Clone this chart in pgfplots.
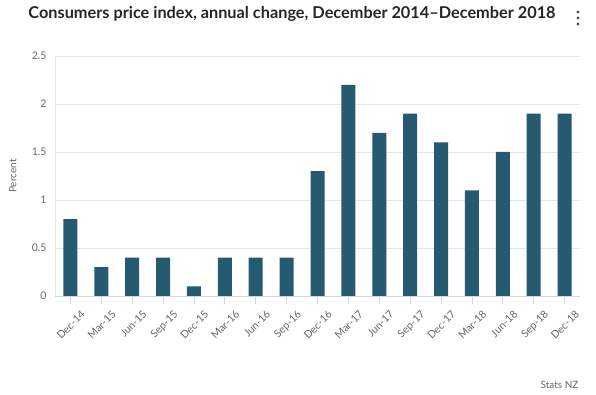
\documentclass[border=0pt]{standalone}
\usepackage{pgfplots}
\pgfplotsset{compat=1.18}
\usepackage{fontspec}
\setmainfont{Lato}
\definecolor{barc}{RGB}{38,90,112}
\definecolor{gridc}{RGB}{230,230,230}
\definecolor{axc}{RGB}{204,214,235}
\definecolor{txt}{RGB}{102,102,102}
\begin{document}
\begin{tikzpicture}
\path[use as bounding box] (0,0) rectangle (596pt,395pt);
\node[anchor=center,font=\bfseries\fontsize{16.3}{19}\selectfont,text=black!85] at (292pt,381pt) {Consumers price index, annual change, December 2014--December 2018};
\fill[black!70] (578pt,383pt) circle (1.6pt) (578pt,377pt) circle (1.6pt) (578pt,371pt) circle (1.6pt);
\node[anchor=east,font=\fontsize{10}{12}\selectfont,text=txt] at (582pt,10pt) {Stats NZ};
\begin{axis}[
  at={(55pt,99pt)}, anchor=south west,
  scale only axis, width=525pt, height=240pt,
  xmin=-0.5, xmax=16.5, ymin=0, ymax=2.5,
  ytick={0,0.5,1,1.5,2,2.5},
  yticklabels={0,0.5,1,1.5,2,2.5},
  xtick={0,...,16},
  xticklabels={Dec-14,Mar-15,Jun-15,Sep-15,Dec-15,Mar-16,Jun-16,Sep-16,Dec-16,Mar-17,Jun-17,Sep-17,Dec-17,Mar-18,Jun-18,Sep-18,Dec-18},
  x tick label style={rotate=45,anchor=north east,font=\fontsize{10.5}{12}\selectfont,text=txt,inner sep=1pt,yshift=-10pt,xshift=4pt},
  y tick label style={font=\fontsize{10.5}{12}\selectfont,text=txt},
  yticklabel style={xshift=-5pt},
  ylabel={Percent},
  ylabel style={font=\fontsize{10}{12}\selectfont,text=txt,at={(rel axis cs:0,0.5)},anchor=south,yshift=35pt},
  ymajorgrids, grid style={gridc,line width=0.8pt},
  axis x line*=bottom, axis y line*=left,
  x axis line style={axc,line width=0.8pt,-},
  y axis line style={gridc,line width=0.8pt,-},
  xtick style={axc,line width=0.8pt},
  major x tick style={axc},
  xtick align=outside, major tick length=8pt,
  ytick style={draw=none},
  tick pos=left,
  ybar, bar width=14pt,
]
\addplot[fill=barc,draw=none] coordinates {
(0,0.8)(1,0.3)(2,0.4)(3,0.4)(4,0.1)(5,0.4)(6,0.4)(7,0.4)(8,1.3)(9,2.2)(10,1.7)(11,1.9)(12,1.6)(13,1.1)(14,1.5)(15,1.9)(16,1.9)};
\end{axis}
\end{tikzpicture}
\end{document}
